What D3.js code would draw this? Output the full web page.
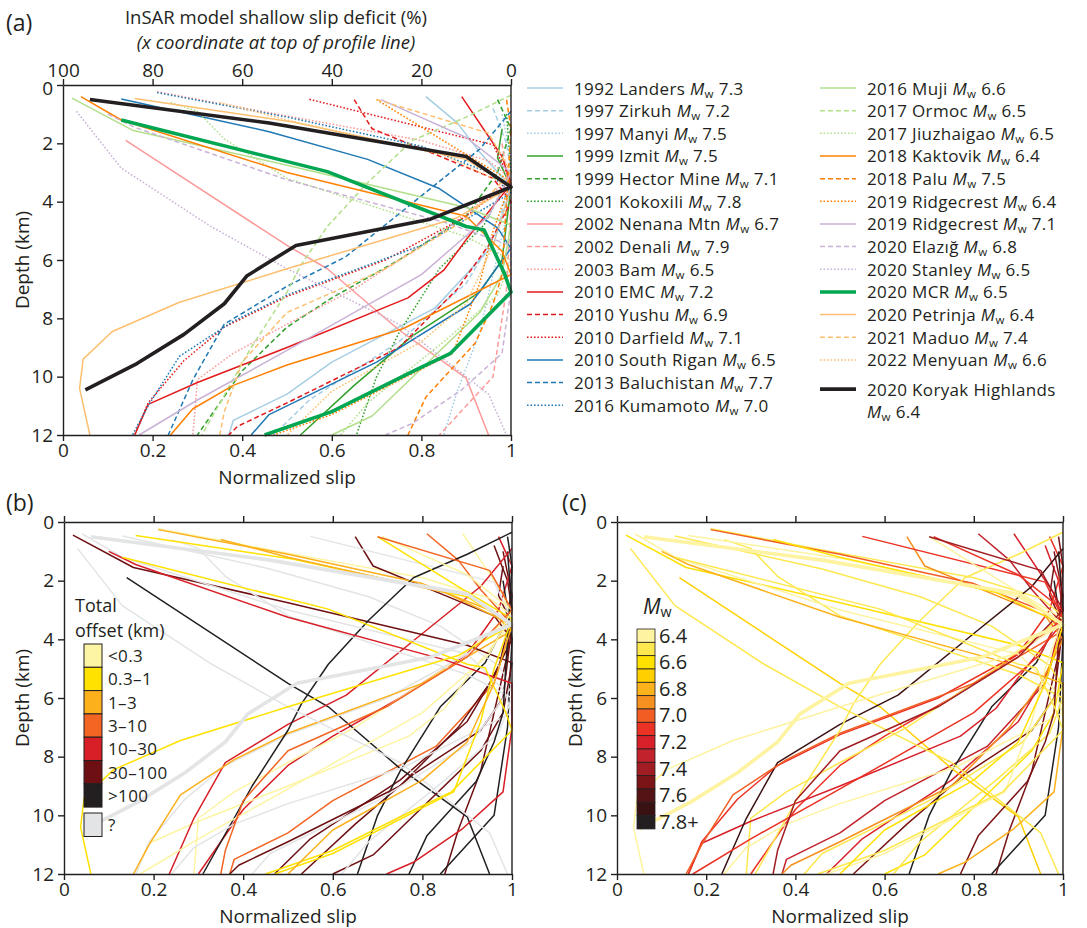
<!DOCTYPE html>
<html>
<head>
<meta charset="utf-8">
<script src="https://cdn.jsdelivr.net/npm/d3@7"></script>
<style>
  body { margin: 0; background: #fff; }
  text { font-family: "Open Sans", sans-serif; fill: #231f20; }
</style>
</head>
<body>
<svg width="1087" height="928"></svg>
<script>
// events, in legend order
var names = ["1992 Landers", "1997 Zirkuh", "1997 Manyi", "1999 Izmit", "1999 Hector Mine",
  "2001 Kokoxili", "2002 Nenana Mtn", "2002 Denali", "2003 Bam", "2010 EMC", "2010 Yushu",
  "2010 Darfield", "2010 South Rigan", "2013 Baluchistan", "2016 Kumamoto",
  "2016 Muji", "2017 Ormoc", "2017 Jiuzhaigao", "2018 Kaktovik", "2018 Palu",
  "2019 Ridgecrest", "2019 Ridgecrest", "2020 Elazığ", "2020 Stanley", "2020 MCR",
  "2020 Petrinja", "2021 Maduo", "2022 Menyuan", "2020 Koryak Highlands"];
var mw = [7.3, 7.2, 7.5, 7.5, 7.1, 7.8, 6.7, 7.9, 6.5, 7.2, 6.9, 7.1, 6.5, 7.7, 7.0,
  6.6, 6.5, 6.5, 6.4, 7.5, 6.4, 7.1, 6.8, 6.5, 6.5, 6.4, 7.4, 6.6, 6.4];
// total offset class: 0 <0.3, 1 0.3-1, 2 1-3, 3 3-10, 4 10-30, 5 30-100, 6 >100, 7 unknown
var offsetClass = [3, 5, 5, 5, 4, 6, 6, 6, 0, 0, 5, 7, 7, 4, 2,
  5, 6, 7, 7, 6, 1, 0, 4, 7, 1, 1, 3, 2, 7];

// profiles: [normalized slip, depth km]
var landers = [[0.81,0.4],[0.88,1.3],[0.93,2.3],[1,3.5],[0.96,5.5],[0.83,7.65],[0.6,9.5],[0.5,10.6],[0.38,11.5],[0.37,12]];
var zirkuh = [[0.96,0.8],[0.99,2],[1,3],[0.97,5],[0.9,6.8],[0.75,8.8],[0.55,10.8],[0.47,12]];
var manyi = [[0.98,1],[1,2.5],[0.99,4.5],[0.96,6.5],[0.93,8.5],[0.88,10.5],[0.85,12]];
var izmit = [[0.98,1.5],[0.97,2.5],[1,3.5],[0.98,6],[0.93,7.1],[0.78,8.6],[0.65,10.3],[0.53,12]];
var hector = [[0.97,0.5],[1,1.5],[0.97,3],[0.9,4.5],[0.75,6],[0.6,7.3],[0.5,8.3],[0.4,9.8],[0.3,12]];
var kokoxili = [[0.99,1],[1,3],[0.94,4.8],[0.84,6.3],[0.75,8.5],[0.7,10],[0.655,12]];
var nenana = [[0.14,1.9],[0.5,5.5],[0.59,6.3],[0.75,8.4],[0.9,10.05],[0.95,12]];
var denali = [[0.98,2],[1,4],[0.99,7],[0.97,9],[0.96,10],[0.84,12]];
var bam = [[0.21,0.23],[0.46,0.95],[0.8,1.9],[0.95,2.6],[1,3.2],[0.85,5],[0.65,7],[0.5,8.2],[0.38,9.2],[0.3,10.1],[0.29,12]];
var emc = [[0.89,0.4],[0.98,2.45],[1,3.4],[0.9,5.3],[0.85,6.35],[0.77,7.3],[0.5,9.0],[0.3,10.2],[0.19,10.95],[0.16,12]];
var yushu = [[0.65,0.5],[0.69,1.5],[0.85,2.5],[0.96,3.2],[1,4],[0.95,5.5],[0.88,7],[0.75,9],[0.5,10.9],[0.39,11.7],[0.37,12]];
var darfield = [[0.55,0.49],[0.96,2.05],[1,3.3],[0.9,4.5],[0.72,6],[0.5,7.25],[0.36,8.3],[0.27,9.45],[0.19,10.9],[0.16,12]];
var southRigan = [[0.13,0.48],[0.46,1.6],[0.68,2.55],[0.84,3.55],[0.97,4.9],[1,5.6],[0.91,7.5],[0.7,9.5],[0.46,11.3],[0.42,12]];
var baluchistan = [[1,0.9],[0.93,2.2],[0.8,3.8],[0.63,5.9],[0.5,6.9],[0.36,8.2],[0.29,10.1],[0.235,12]];
var kumamoto = [[0.21,0.26],[0.5,1.1],[0.8,2.1],[0.95,3.0],[1,3.7],[0.8,5.5],[0.5,7.2],[0.38,8.1],[0.26,9.3],[0.19,11.0],[0.155,12]];
var muji = [[0.02,0.45],[0.155,1.55],[0.5,2.75],[0.9,4.2],[1,4.8],[0.98,6.5],[0.93,7.8],[0.69,11.35],[0.6,12]];
var ormoc = [[1,0.35],[0.9,1.1],[0.78,1.9],[0.68,3.35],[0.59,4.85],[0.53,6.2],[0.5,7.1],[0.42,9],[0.31,12]];
var jiuzhaigao = [[0.24,0.6],[0.3,0.9],[0.36,1.85],[0.5,3.2],[0.9,5.2],[1,6],[0.97,7.2],[0.85,8.8],[0.68,10.9],[0.62,12]];
var kaktovik = [[0.04,0.4],[0.13,1.2],[0.5,3.0],[0.9,4.5],[0.98,5.7],[1,6.5],[0.76,8.35],[0.5,9.6],[0.38,10.3],[0.29,11.1],[0.24,12]];
var palu = [[0.99,0.5],[1,1.5],[0.99,4],[0.98,6.5],[0.96,7.5],[0.92,8.85],[0.81,10.7],[0.77,12]];
var ridgecrest64 = [[0.7,0.5],[0.88,2.2],[1,3.3],[0.96,5],[0.93,6.8],[0.87,9.2],[0.6,11.3],[0.47,12]];
var ridgecrest71 = [[0.71,0.5],[0.9,1.8],[1,3.0],[0.95,4.5],[0.8,6.5],[0.5,9.1],[0.3,10.8],[0.17,12]];
var elazig = [[0.1,1.0],[0.16,1.45],[0.5,3.25],[0.85,4.7],[1,5.5],[1,7],[0.98,9.2],[0.89,10.45],[0.78,11.6],[0.72,12]];
var stanley = [[0.03,0.9],[0.13,2.85],[0.33,4.85],[0.5,6.3],[0.75,8.2],[0.95,10.6],[0.99,12]];
var mcr = [[0.13,1.2],[0.59,2.97],[0.9,4.85],[0.94,4.97],[0.985,6.45],[1,7.1],[0.955,7.8],[0.865,9.2],[0.79,9.75],[0.6,11.2],[0.45,12]];
var petrinja = [[0.16,0.46],[0.51,1.26],[0.9,2.55],[1,3.5],[0.88,4.55],[0.5,6.3],[0.26,7.45],[0.11,8.45],[0.045,9.4],[0.037,10.4],[0.06,12]];
var maduo = [[0.7,0.5],[0.95,1.65],[1,3],[0.9,4.6],[0.72,6.3],[0.5,7.8],[0.4,9.5],[0.36,11.2],[0.35,12]];
var menyuan = [[0.35,0.6],[0.5,1.2],[0.85,2.4],[1,3.5],[0.96,5.5],[0.9,7.5],[0.8,8.8],[0.6,10.5],[0.5,12]];
var koryak = [[0.06,0.5],[0.46,1.3],[0.9,2.45],[1,3.5],[0.82,4.6],[0.52,5.5],[0.41,6.55],[0.36,7.5],[0.27,8.55],[0.165,9.55],[0.05,10.45]];

var profiles = [landers, zirkuh, manyi, izmit, hector, kokoxili, nenana, denali, bam, emc, yushu,
  darfield, southRigan, baluchistan, kumamoto, muji, ormoc, jiuzhaigao, kaktovik, palu,
  ridgecrest64, ridgecrest71, elazig, stanley, mcr, petrinja, maduo, menyuan, koryak];

var xTicks = [0, 0.2, 0.4, 0.6, 0.8, 1];
var yTicks = [0, 2, 4, 6, 8, 10, 12];
var topTicks = [100, 80, 60, 40, 20, 0];
var offsetLabels = ["<0.3", "0.3–1", "1–3", "3–10", "10–30", "30–100", ">100"];
var mwLegend = [6.4, 6.5, 6.6, 6.7, 6.8, 6.9, 7.0, 7.1, 7.2, 7.3, 7.4, 7.5, 7.6, 7.7, 7.8];
var mwLegendLabels = ["6.4", "", "6.6", "", "6.8", "", "7.0", "", "7.2", "", "7.4", "", "7.6", "", "7.8+"];

// ---- styles ----
var ink = "#231f20";
var pairColors = ["#a6cee3", "#33a02c", "#fb9a99", "#e31a1c", "#1f78b4",
                  "#b2df8a", "#ff7f00", "#cab2d6", "#00a651", "#fdbf6f", ink];
var dashes = [null, "5,3", "1.6,1.9"];
function colorA(i) {
  if (i < 15) return pairColors[Math.floor(i / 3)];
  if (i < 24) return pairColors[5 + Math.floor((i - 15) / 3)];
  if (i === 24) return pairColors[8];
  if (i < 28) return pairColors[9];
  return ink;
}
function dashA(i) {
  if (i < 24) return dashes[i % 3];
  if (i === 24 || i === 28) return null;
  return dashes[i - 25];
}
var offsetColors = ["#fdf4a4", "#ffe200", "#fbb01c", "#f26522", "#d81f27", "#6e1013", ink, "#e3e4e5"];
var mwColors = ["#fdf3a1", "#fde84f", "#ffe100", "#ffd000", "#fbb21b", "#f6901e", "#f15d23",
  "#ec3224", "#d7202a", "#c1222b", "#a21d23", "#7a1416", "#561315", "#3a1113", ink];
function mwColor(m) {
  var k = Math.round((m - 6.4) * 10);
  return mwColors[Math.max(0, Math.min(14, k))];
}

var svg = d3.select("svg");
var TICK_FS = 19;   // tick labels
var TITLE_FS = 19;  // axis titles
var LEG_FS = 17;    // legend texts

function drawFrame(g, x, y, topLabels) {
  var x0 = x.range()[0], x1 = x.range()[1], y0 = y.range()[0], y1 = y.range()[1];
  var fmt = function (d) { return String(d); };
  var left = g.append("g").attr("transform", "translate(" + x0 + ",0)")
    .call(d3.axisLeft(y).tickValues(yTicks).tickFormat(fmt).tickSize(6).tickSizeOuter(0).tickPadding(4));
  var bottom = g.append("g").attr("transform", "translate(0," + y1 + ")")
    .call(d3.axisBottom(x).tickValues(xTicks).tickFormat(fmt).tickSize(6).tickSizeOuter(0).tickPadding(3));
  var top;
  if (topLabels) {
    var xt = d3.scaleLinear().domain([100, 0]).range([x0, x1]);
    top = g.append("g").attr("transform", "translate(0," + y0 + ")")
      .call(d3.axisTop(xt).tickValues(topTicks).tickFormat(fmt).tickSize(6).tickSizeOuter(0).tickPadding(2));
  } else {
    top = g.append("g").attr("transform", "translate(0," + y0 + ")")
      .call(d3.axisTop(x).tickValues(xTicks).tickFormat("").tickSize(6).tickSizeOuter(0));
  }
  g.append("line").attr("x1", x1).attr("x2", x1).attr("y1", y0).attr("y2", y1)
    .attr("stroke", ink).attr("stroke-width", 1.4);
  [left, bottom, top].forEach(function (a) {
    a.selectAll("path, line").attr("stroke", ink).attr("stroke-width", 1.4);
    a.selectAll("text").attr("font-size", TICK_FS).attr("font-family", "Open Sans").attr("fill", ink);
  });
  // keep the "0" depth label clear of the top-axis labels
  left.selectAll(".tick text").filter(function (d) { return d === 0 && topLabels; }).attr("dy", "0.5em");
}

function lineGen(x, y) {
  return d3.line().x(function (d) { return x(d[0]); }).y(function (d) { return y(d[1]); });
}

function mwLabel(t, prefix, val) {
  if (prefix) t.append("tspan").text(prefix + " ");
  t.append("tspan").attr("font-style", "italic").text("M");
  t.append("tspan").attr("font-size", "0.68em").attr("dy", 3).text("w");
  t.append("tspan").attr("dy", -3).text(" " + val);
}

function axisTitles(g, x, y, cx) {
  g.append("text").attr("x", (x.range()[0] + x.range()[1]) / 2).attr("y", y.range()[1] + 48.5)
    .attr("text-anchor", "middle").attr("font-size", TITLE_FS).text("Normalized slip");
  var cy = (y.range()[0] + y.range()[1]) / 2;
  g.append("text").attr("transform", "translate(" + cx + "," + cy + ") rotate(-90)")
    .attr("text-anchor", "middle").attr("font-size", TITLE_FS).text("Depth (km)");
}

// ================= panel (a) =================
var xa = d3.scaleLinear().domain([0, 1]).range([63, 511]);
var ya = d3.scaleLinear().domain([0, 12]).range([85, 435]);
var ga = svg.append("g");
var la = lineGen(xa, ya);
var orderA = d3.range(profiles.length).filter(function (i) { return i !== 24 && i !== 28; }).concat([24, 28]);
ga.append("g").selectAll("path").data(orderA).enter().append("path")
  .attr("d", function (i) { return la(profiles[i]); })
  .attr("fill", "none")
  .attr("stroke", colorA)
  .attr("stroke-width", function (i) { return (i === 24 || i === 28) ? 3.6 : 1.5; })
  .attr("stroke-dasharray", dashA)
  .attr("stroke-linejoin", "round");
drawFrame(ga, xa, ya, true);
axisTitles(ga, xa, ya, 29);
ga.append("text").attr("x", 6).attr("y", 31).attr("font-size", 23).text("(a)");
ga.append("text").attr("x", 276).attr("y", 24).attr("text-anchor", "middle").attr("font-size", 18.5)
  .text("InSAR model shallow slip deficit (%)");
ga.append("text").attr("x", 276).attr("y", 49).attr("text-anchor", "middle").attr("font-size", 18.5)
  .attr("font-style", "italic").text("(x coordinate at top of profile line)");

// legend (a)
var rowH = 22.66;
var legA = ga.append("g");
profiles.forEach(function (p, i) {
  var col = i < 15 ? 0 : 1;
  var row = i < 15 ? i : i - 15;
  var lx = col === 0 ? 527 : 820;
  var ly = 88 + row * rowH + (i === 28 ? 6.5 : 0);
  legA.append("line").attr("x1", lx).attr("x2", lx + 36).attr("y1", ly).attr("y2", ly)
    .attr("stroke", colorA(i))
    .attr("stroke-width", (i === 24 || i === 28) ? 3.6 : 1.5)
    .attr("stroke-dasharray", dashA(i));
  var t = legA.append("text").attr("x", lx + 47).attr("y", ly + 6.5)
    .attr("font-size", LEG_FS).attr("letter-spacing", 0.35);
  if (i === 28) {
    t.text(names[i]);
    var t2 = legA.append("text").attr("x", lx + 47).attr("y", ly + 6.5 + rowH)
      .attr("font-size", LEG_FS).attr("letter-spacing", 0.35);
    mwLabel(t2, null, mw[i].toFixed(1));
  } else {
    mwLabel(t, names[i], mw[i].toFixed(1));
  }
});

// ================= panel (b) =================
var xb = d3.scaleLinear().domain([0, 1]).range([64, 512]);
var yb = d3.scaleLinear().domain([0, 12]).range([522, 874]);
var gb = svg.append("g");
var lb = lineGen(xb, yb);
var orderB = d3.range(profiles.length - 1).concat([28]);
gb.append("g").selectAll("path").data(orderB).enter().append("path")
  .attr("d", function (i) { return lb(profiles[i]); })
  .attr("fill", "none")
  .attr("stroke", function (i) { return offsetColors[offsetClass[i]]; })
  .attr("stroke-width", function (i) { return i === 28 ? 3.6 : 1.5; })
  .attr("stroke-linejoin", "round");
drawFrame(gb, xb, yb, false);
axisTitles(gb, xb, yb, 29);
gb.append("text").attr("x", 6).attr("y", 511).attr("font-size", 23).text("(b)");
gb.append("text").attr("x", 75).attr("y", 612).attr("font-size", 18).text("Total");
gb.append("text").attr("x", 75).attr("y", 637).attr("font-size", 18).text("offset (km)");
offsetLabels.forEach(function (lab, k) {
  var by = 644 + k * 23.3;
  gb.append("rect").attr("x", 84).attr("y", by).attr("width", 18).attr("height", 23.3)
    .attr("fill", offsetColors[k]).attr("stroke", ink).attr("stroke-width", 1);
  gb.append("text").attr("x", 108).attr("y", by + 18).attr("font-size", 17)
    .attr("letter-spacing", 0.4).text(lab);
});
gb.append("rect").attr("x", 84).attr("y", 813).attr("width", 18).attr("height", 23.5)
  .attr("fill", offsetColors[7]).attr("stroke", ink).attr("stroke-width", 1);
gb.append("text").attr("x", 108).attr("y", 831).attr("font-size", 17).text("?");

// ================= panel (c) =================
var xc = d3.scaleLinear().domain([0, 1]).range([617, 1063]);
var yc = d3.scaleLinear().domain([0, 12]).range([522, 874]);
var gc = svg.append("g");
var lc = lineGen(xc, yc);
gc.append("g").selectAll("path").data(orderB).enter().append("path")
  .attr("d", function (i) { return lc(profiles[i]); })
  .attr("fill", "none")
  .attr("stroke", function (i) { return mwColor(mw[i]); })
  .attr("stroke-width", function (i) { return i === 28 ? 3.6 : 1.5; })
  .attr("stroke-linejoin", "round");
drawFrame(gc, xc, yc, false);
axisTitles(gc, xc, yc, 582);
gc.append("text").attr("x", 562).attr("y", 511).attr("font-size", 23).text("(c)");
var mwt = gc.append("text").attr("x", 643).attr("y", 614).attr("font-size", 21);
mwt.append("tspan").attr("font-style", "italic").text("M");
mwt.append("tspan").attr("font-size", "0.68em").attr("dy", 3).text("w");
mwLegend.forEach(function (m, k) {
  var by = 629 + k * 13.33;
  gc.append("rect").attr("x", 637).attr("y", by).attr("width", 18).attr("height", 13.33)
    .attr("fill", mwColor(m)).attr("stroke", ink).attr("stroke-width", 0.8);
  if (mwLegendLabels[k]) {
    gc.append("text").attr("x", 659).attr("y", by + 13.5).attr("font-size", 20).text(mwLegendLabels[k]);
  }
});
</script>
</body>
</html>
